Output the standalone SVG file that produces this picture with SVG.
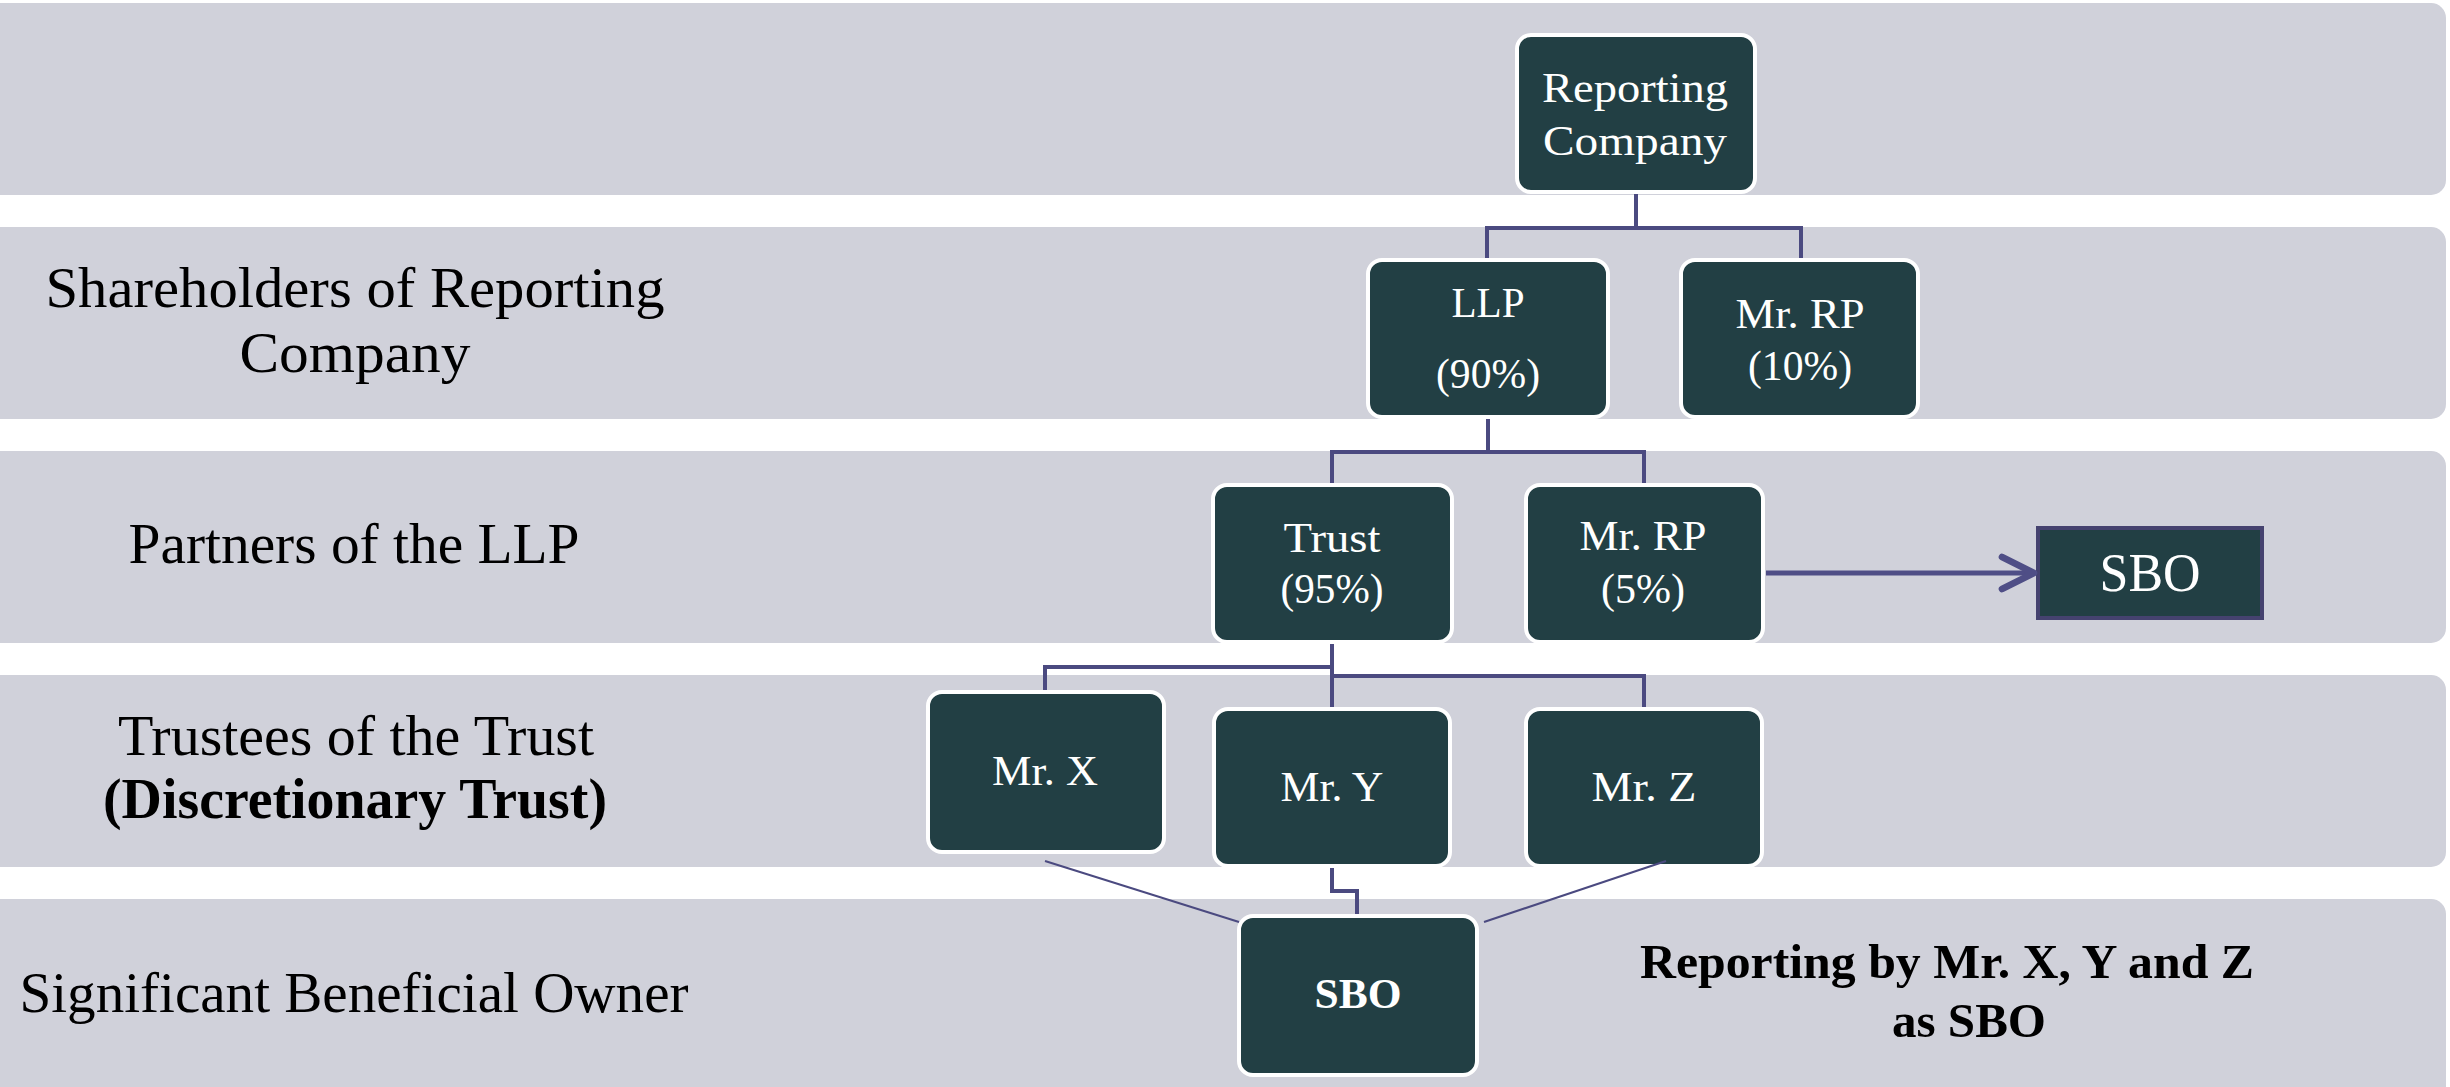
<svg xmlns="http://www.w3.org/2000/svg" width="2450" height="1087" viewBox="0 0 2450 1087">
  <style>
    .band { fill: #d0d1da; }
    .node rect { fill: #223f44; stroke: #ffffff; stroke-width: 4; }
    .ntext { font-family: "Liberation Serif", "Times New Roman", serif; fill: #ffffff; text-anchor: middle; font-size: 43px; }
    .label { font-family: "Liberation Serif", "Times New Roman", serif; fill: #000000; text-anchor: middle; font-size: 56px; }
    .note { font-size: 49px; }
    .bold { font-weight: bold; }
    .link { fill: none; stroke: #4b4a80; stroke-width: 4; }
    .arrow { fill: none; stroke: #4f4e86; stroke-width: 5; }
    .thin { fill: none; stroke: #4b4a80; stroke-width: 2; }
  </style>
  <defs>
    <marker id="chevron" markerUnits="userSpaceOnUse" markerWidth="40" markerHeight="40" refX="27" refY="15" orient="auto" viewBox="0 0 30 30">
      <path d="M3,3 L27,15 L3,27" fill="none" stroke="#4f4e86" stroke-width="5" stroke-linecap="round" stroke-linejoin="round"/>
    </marker>
  </defs>

  <rect width="2450" height="1087" fill="#ffffff"/>

  <!-- horizontal level bands -->
  <g id="bands">
    <rect class="band" x="-16" y="3" width="2462" height="192" rx="15"/>
    <rect class="band" x="-16" y="227" width="2462" height="192" rx="15"/>
    <rect class="band" x="-16" y="451" width="2462" height="192" rx="15"/>
    <rect class="band" x="-16" y="675" width="2462" height="192" rx="15"/>
    <rect class="band" x="-16" y="899" width="2462" height="204" rx="15"/>
  </g>

  <!-- level captions -->
  <g id="level-labels">
    <text class="label" x="355" y="307" textLength="619" lengthAdjust="spacingAndGlyphs">Shareholders of Reporting</text>
    <text class="label" x="355" y="372" textLength="231" lengthAdjust="spacingAndGlyphs">Company</text>
    <text class="label" x="354" y="563" textLength="451" lengthAdjust="spacingAndGlyphs">Partners of the LLP</text>
    <text class="label" x="356" y="755" textLength="476" lengthAdjust="spacingAndGlyphs">Trustees of the Trust</text>
    <text class="label bold" x="355" y="818" textLength="504" lengthAdjust="spacingAndGlyphs">(Discretionary Trust)</text>
    <text class="label" x="354" y="1012" textLength="669" lengthAdjust="spacingAndGlyphs">Significant Beneficial Owner</text>
  </g>

  <g id="node-reporting-company" class="node">
    <rect x="1517" y="35" width="238" height="157" rx="14"/>
    <text class="ntext" x="1635" y="102" textLength="186" lengthAdjust="spacingAndGlyphs">Reporting</text>
    <text class="ntext" x="1635" y="155" textLength="184" lengthAdjust="spacingAndGlyphs">Company</text>
  </g>

  <g id="node-llp" class="node">
    <rect x="1368" y="260" width="240" height="157" rx="14"/>
    <text class="ntext" x="1488" y="317" textLength="73" lengthAdjust="spacingAndGlyphs">LLP</text>
    <text class="ntext" x="1488" y="388" textLength="104" lengthAdjust="spacingAndGlyphs">(90%)</text>
  </g>

  <g id="node-mr-rp-10" class="node">
    <rect x="1681" y="260" width="237" height="157" rx="14"/>
    <text class="ntext" x="1800" y="328" textLength="129" lengthAdjust="spacingAndGlyphs">Mr. RP</text>
    <text class="ntext" x="1800" y="380" textLength="104" lengthAdjust="spacingAndGlyphs">(10%)</text>
  </g>

  <g id="node-trust" class="node">
    <rect x="1213" y="485" width="239" height="157" rx="14"/>
    <text class="ntext" x="1332" y="552" textLength="97" lengthAdjust="spacingAndGlyphs">Trust</text>
    <text class="ntext" x="1332" y="603" textLength="103" lengthAdjust="spacingAndGlyphs">(95%)</text>
  </g>

  <g id="node-mr-rp-5" class="node">
    <rect x="1526" y="485" width="237" height="157" rx="14"/>
    <text class="ntext" x="1643" y="550" textLength="127" lengthAdjust="spacingAndGlyphs">Mr. RP</text>
    <text class="ntext" x="1643" y="603" textLength="84" lengthAdjust="spacingAndGlyphs">(5%)</text>
  </g>

  <g id="node-sbo-rp">
    <rect x="2038" y="528" width="224" height="90" fill="#223f44" stroke="#45426f" stroke-width="4"/>
    <text class="ntext" x="2150" y="591" style="font-size:54px" textLength="101" lengthAdjust="spacingAndGlyphs">SBO</text>
  </g>

  <g id="node-mr-x" class="node">
    <rect x="928" y="692" width="236" height="160" rx="14"/>
    <text class="ntext" x="1045" y="785" textLength="106" lengthAdjust="spacingAndGlyphs">Mr. X</text>
  </g>

  <g id="node-mr-y" class="node">
    <rect x="1214" y="709" width="236" height="157" rx="14"/>
    <text class="ntext" x="1332" y="801" textLength="103" lengthAdjust="spacingAndGlyphs">Mr. Y</text>
  </g>

  <g id="node-mr-z" class="node">
    <rect x="1526" y="709" width="236" height="157" rx="14"/>
    <text class="ntext" x="1644" y="801" textLength="105" lengthAdjust="spacingAndGlyphs">Mr. Z</text>
  </g>

  <g id="node-sbo-trustees" class="node">
    <rect x="1239" y="916" width="238" height="159" rx="14"/>
    <text class="ntext bold" x="1358" y="1008" textLength="87" lengthAdjust="spacingAndGlyphs">SBO</text>
  </g>

  <!-- connectors, drawn above the boxes -->
  <g id="connectors">
    <path class="link" d="M1636,194 V228 M1487,228 H1801 M1487,226 V258 M1801,226 V258"/>
    <path class="link" d="M1488,419 V452 M1332,452 H1644 M1332,450 V483 M1644,450 V483"/>
    <path class="link" d="M1332,644 V707 M1332,667 H1045 V690 M1332,676 H1644 V707"/>
    <path class="arrow" d="M1766,573 H2034" marker-end="url(#chevron)"/>
    <path class="link" d="M1332,868 V891 H1357 V914"/>
    <path class="thin" d="M1045,861 L1239,922"/>
    <path class="thin" d="M1666,861 L1484,922"/>
  </g>

  <g id="note">
    <text class="label bold note" x="1947" y="978" textLength="614" lengthAdjust="spacingAndGlyphs">Reporting by Mr. X, Y and Z</text>
    <text class="label bold note" x="1969" y="1037" textLength="154" lengthAdjust="spacingAndGlyphs">as SBO</text>
  </g>
</svg>
